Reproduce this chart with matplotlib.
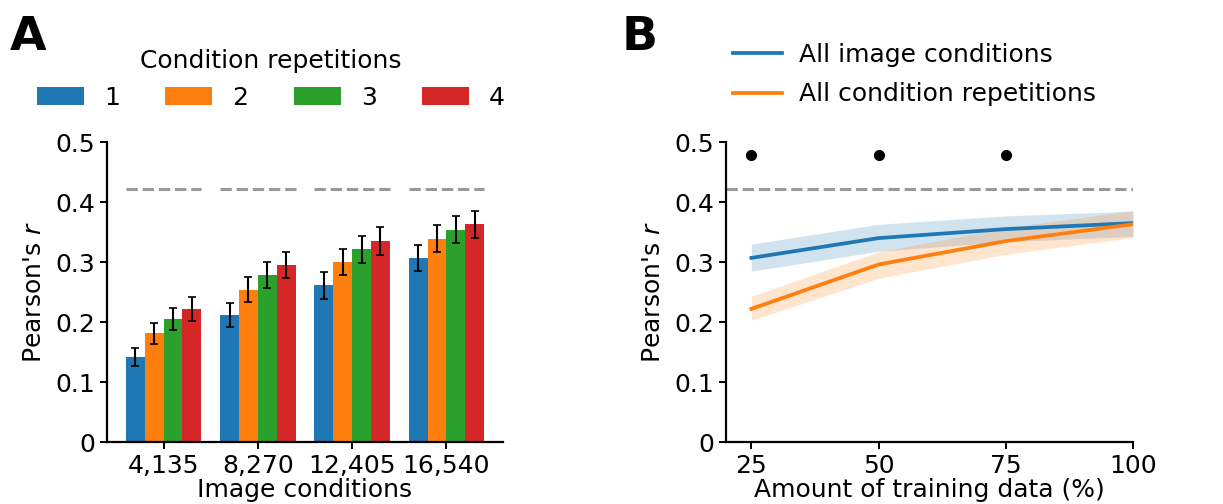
import numpy as np
import matplotlib
matplotlib.use("Agg")
import matplotlib.pyplot as plt

# datos panel A
condiciones = ["4,135", "8,270", "12,405", "16,540"]
repeticiones = ["1", "2", "3", "4"]
colores = ["#1f77b4", "#ff7f0e", "#2ca02c", "#d62728"]
media_rep1 = [0.141, 0.211, 0.261, 0.307]
media_rep2 = [0.181, 0.254, 0.300, 0.339]
media_rep3 = [0.205, 0.278, 0.321, 0.354]
media_rep4 = [0.222, 0.295, 0.335, 0.363]
err_rep1 = [0.015, 0.020, 0.022, 0.022]
err_rep2 = [0.018, 0.021, 0.022, 0.023]
err_rep3 = [0.019, 0.022, 0.023, 0.023]
err_rep4 = [0.020, 0.022, 0.023, 0.023]
techo_ruido = 0.422

# datos panel B
porcentaje = [25, 50, 75, 100]
imagenes_media = [0.307, 0.340, 0.355, 0.365]
imagenes_sup = [0.330, 0.363, 0.377, 0.385]
imagenes_inf = [0.285, 0.318, 0.334, 0.343]
repets_media = [0.222, 0.296, 0.335, 0.363]
repets_sup = [0.243, 0.317, 0.357, 0.386]
repets_inf = [0.203, 0.273, 0.313, 0.341]
signif_x = [25, 50, 75]
signif_y = 0.479

plt.rcParams["font.family"] = "DejaVu Sans"
plt.rcParams["font.size"] = 18

fig = plt.figure(figsize=(12.23, 5.04), dpi=100)
axA = fig.add_axes([0.0875, 0.123, 0.3238, 0.595])
axB = fig.add_axes([0.5936, 0.123, 0.3328, 0.595])

#%% panel A
medias = [media_rep1, media_rep2, media_rep3, media_rep4]
errores = [err_rep1, err_rep2, err_rep3, err_rep4]
x = np.arange(len(condiciones))
ancho = 0.2
for i in range(4):
    axA.bar(x + (i - 1.5) * ancho, medias[i], ancho, yerr=errores[i], color=colores[i],
            label=repeticiones[i], error_kw=dict(ecolor="black", elinewidth=1.5, capsize=3, capthick=1.2))
for xi in x:
    axA.hlines(techo_ruido, xi - 0.4, xi + 0.4, colors="#999999", linestyles="--", linewidth=2.2)
axA.set_xlim(-0.6, 3.6)
axA.set_ylim(0, 0.5)
axA.set_xticks(x)
axA.set_xticklabels(condiciones)
axA.set_yticks([0, 0.1, 0.2, 0.3, 0.4, 0.5])
axA.set_yticklabels(["0", "0.1", "0.2", "0.3", "0.4", "0.5"])
axA.set_xlabel("Image conditions", labelpad=0)
axA.set_ylabel("Pearson's $r$", labelpad=7)
fig.legend(loc="center", bbox_to_anchor=(0.2216, 0.842), ncol=4, frameon=False,
           title="Condition repetitions", title_fontsize=18, handlelength=1.88,
           handletextpad=0.8, columnspacing=1.82, borderaxespad=0)
fig.text(0.008, 0.97, "A", fontsize=34, fontweight="bold", va="top")

#%% panel B
axB.plot(porcentaje, imagenes_media, color=colores[0], linewidth=2.7, label="All image conditions")
axB.fill_between(porcentaje, imagenes_inf, imagenes_sup, color=colores[0], alpha=0.2, linewidth=0)
axB.plot(porcentaje, repets_media, color=colores[1], linewidth=2.7, label="All condition repetitions")
axB.fill_between(porcentaje, repets_inf, repets_sup, color=colores[1], alpha=0.2, linewidth=0)
axB.axhline(techo_ruido, color="#999999", linestyle="--", linewidth=2.2)
axB.plot(signif_x, [signif_y] * len(signif_x), "o", color="black", markersize=7)
axB.set_xlim(20, 100)
axB.set_ylim(0, 0.5)
axB.set_xticks(porcentaje)
axB.set_yticks([0, 0.1, 0.2, 0.3, 0.4, 0.5])
axB.set_yticklabels(["0", "0.1", "0.2", "0.3", "0.4", "0.5"])
axB.set_xlabel("Amount of training data (%)", labelpad=0)
axB.set_ylabel("Pearson's $r$", labelpad=7)
axB.legend(loc="center left", bbox_to_anchor=(0.5915, 0.852), bbox_transform=fig.transFigure,
           frameon=False, handlelength=1.96, handletextpad=0.65, borderaxespad=0, labelspacing=0.62)
fig.text(0.508, 0.97, "B", fontsize=34, fontweight="bold", va="top")

for ax in (axA, axB):
    ax.spines["top"].set_visible(False)
    ax.spines["right"].set_visible(False)
    ax.spines["left"].set_linewidth(1.6)
    ax.spines["bottom"].set_linewidth(1.6)
    ax.tick_params(width=1.4, length=5)

fig.savefig("out.png", dpi=100)
